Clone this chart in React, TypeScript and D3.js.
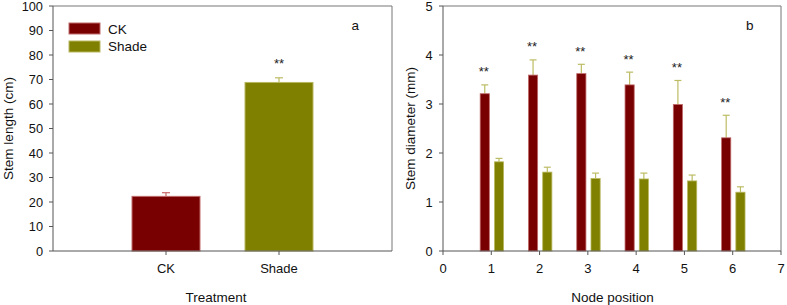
import React from "react";
import * as d3 from "d3";

// Panel a data
const treatments = ["CK", "Shade"];
const stemLength = [22.3, 68.8];
const stemLengthErr = [1.5, 1.9];
const stemLengthSig = ["", "**"];
const lengthTicks = [0, 10, 20, 30, 40, 50, 60, 70, 80, 90, 100];

// Panel b data
const nodes = [1, 2, 3, 4, 5, 6];
const diamCK = [3.21, 3.59, 3.62, 3.39, 2.99, 2.31];
const diamCKErr = [0.18, 0.31, 0.19, 0.26, 0.49, 0.46];
const diamShade = [1.82, 1.61, 1.48, 1.47, 1.43, 1.2];
const diamShadeErr = [0.07, 0.1, 0.11, 0.12, 0.12, 0.11];
const diamSig = ["**", "**", "**", "**", "**", "**"];
const diamTicksY = [0, 1, 2, 3, 4, 5];
const diamTicksX = [0, 1, 2, 3, 4, 5, 6, 7];

const RED = "#780000";
const RED_EDGE = "#c06a6a";
const OLIVE = "#7f7f00";
const OLIVE_EDGE = "#b8b860";
const ERR_B = "#bcbc64";
const FONT = "Arial, 'Liberation Sans', Helvetica, sans-serif";
const AXIS = "#555";

export default function App() {
  const top = 6;
  const bottom = 251;

  // Panel a scales
  const xa = d3.scalePoint<string>().domain(["", ...treatments, " "]).range([53, 392]);
  const ya = d3.scaleLinear().domain([0, 100]).range([bottom, top]);
  const barWA = 68;

  // Panel b scales
  const xb = d3.scaleLinear().domain([0, 7]).range([443, 781]);
  const yb = d3.scaleLinear().domain([0, 5]).range([bottom, top]);
  const bw = xb(0.19) - xb(0);

  const colorsA = [RED, OLIVE];
  const edgesA = [RED_EDGE, OLIVE_EDGE];
  const errA = ["#c86a6a", ERR_B];

  return (
    <svg
      width={787}
      height={305}
      style={{ position: "absolute", left: 0, top: 0, background: "#fff" }}
      fontFamily={FONT}
    >
      {/* ---------- Panel a ---------- */}
      <g>
        {/* bars */}
        {treatments.map((t, i) => {
          const cx = xa(t)!;
          return (
            <g key={t}>
              <line x1={cx} x2={cx} y1={ya(stemLength[i])} y2={ya(stemLength[i] + stemLengthErr[i])} stroke={errA[i]} strokeWidth={1.2} />
              <line x1={cx - 4} x2={cx + 4} y1={ya(stemLength[i] + stemLengthErr[i])} y2={ya(stemLength[i] + stemLengthErr[i])} stroke={errA[i]} strokeWidth={1.2} />
              <rect x={cx - barWA / 2} y={ya(stemLength[i])} width={barWA} height={ya(0) - ya(stemLength[i])} fill={colorsA[i]} stroke={edgesA[i]} strokeWidth={1} />
              {stemLengthSig[i] && (
                <text x={cx} y={ya(stemLength[i] + stemLengthErr[i]) - 9.5} textAnchor="middle" fontSize={13} fill="#222">
                  {stemLengthSig[i]}
                </text>
              )}
            </g>
          );
        })}
        {/* frame */}
        <path d={`M53,${top}H392V${bottom}`} fill="none" stroke="#777" strokeWidth={1} />
        <line x1={53} x2={53} y1={top} y2={bottom} stroke={AXIS} strokeWidth={1} />
        <line x1={53} x2={392} y1={bottom} y2={bottom} stroke={AXIS} strokeWidth={1} />
        {/* y ticks */}
        {lengthTicks.map((v) => (
          <g key={v}>
            <line x1={49} x2={53} y1={ya(v)} y2={ya(v)} stroke={AXIS} />
            <text x={43} y={ya(v) + 4.5} textAnchor="end" fontSize={12.8} fill="#111">
              {v}
            </text>
          </g>
        ))}
        {/* x ticks */}
        {treatments.map((t) => (
          <g key={t}>
            <line x1={xa(t)!} x2={xa(t)!} y1={bottom} y2={bottom + 4} stroke={AXIS} />
            <text x={xa(t)!} y={273} textAnchor="middle" fontSize={13} fill="#111">
              {t}
            </text>
          </g>
        ))}
        <text x={216} y={301.5} textAnchor="middle" fontSize={13.5} fill="#111">
          Treatment
        </text>
        <text transform={`translate(12.5,128.5) rotate(-90)`} textAnchor="middle" fontSize={13.5} fill="#111">
          Stem length (cm)
        </text>
        {/* legend */}
        {treatments.map((t, i) => (
          <g key={t}>
            <rect x={69} y={23 + i * 18} width={31} height={11} fill={colorsA[i]} stroke={edgesA[i]} />
            <text x={108} y={33.5 + i * 17.5} fontSize={13.5} fill="#111">
              {t}
            </text>
          </g>
        ))}
        <text x={351.5} y={29.5} fontSize={13.5} fill="#111">
          a
        </text>
      </g>

      {/* ---------- Panel b ---------- */}
      <g>
        {nodes.map((n, i) => {
          const ckX = xb(n - 0.23);
          const shX = xb(n + 0.065);
          const ckTop = yb(diamCK[i] + diamCKErr[i]);
          const shTop = yb(diamShade[i] + diamShadeErr[i]);
          return (
            <g key={n}>
              <line x1={ckX + bw / 2} x2={ckX + bw / 2} y1={yb(diamCK[i])} y2={ckTop} stroke={ERR_B} strokeWidth={1.2} />
              <line x1={ckX + bw / 2 - 3.5} x2={ckX + bw / 2 + 3.5} y1={ckTop} y2={ckTop} stroke={ERR_B} strokeWidth={1.2} />
              <line x1={shX + bw / 2} x2={shX + bw / 2} y1={yb(diamShade[i])} y2={shTop} stroke={ERR_B} strokeWidth={1.2} />
              <line x1={shX + bw / 2 - 3.5} x2={shX + bw / 2 + 3.5} y1={shTop} y2={shTop} stroke={ERR_B} strokeWidth={1.2} />
              <rect x={ckX} y={yb(diamCK[i])} width={bw} height={yb(0) - yb(diamCK[i])} fill={RED} stroke={RED_EDGE} strokeWidth={0.8} />
              <rect x={shX} y={yb(diamShade[i])} width={bw} height={yb(0) - yb(diamShade[i])} fill={OLIVE} stroke={OLIVE_EDGE} strokeWidth={0.8} />
              <text x={ckX + bw / 2 - 1} y={ckTop - 8.5} textAnchor="middle" fontSize={13} fill="#222">
                {diamSig[i]}
              </text>
            </g>
          );
        })}
        <path d={`M443,${top}H781V${bottom}`} fill="none" stroke="#777" strokeWidth={1} />
        <line x1={443} x2={443} y1={top} y2={bottom} stroke={AXIS} strokeWidth={1} />
        <line x1={443} x2={781} y1={bottom} y2={bottom} stroke={AXIS} strokeWidth={1} />
        {diamTicksY.map((v) => (
          <g key={v}>
            <line x1={439} x2={443} y1={yb(v)} y2={yb(v)} stroke={AXIS} />
            <text x={432.5} y={yb(v) + 4.5} textAnchor="end" fontSize={12.8} fill="#111">
              {v}
            </text>
          </g>
        ))}
        {diamTicksX.map((v) => (
          <g key={v}>
            <line x1={xb(v)} x2={xb(v)} y1={bottom} y2={bottom + 4} stroke={AXIS} />
            <text x={xb(v)} y={273} textAnchor="middle" fontSize={13} fill="#111">
              {v}
            </text>
          </g>
        ))}
        <text x={612.5} y={301.5} textAnchor="middle" fontSize={13.5} fill="#111">
          Node position
        </text>
        <text transform={`translate(415,128.5) rotate(-90)`} textAnchor="middle" fontSize={13.5} fill="#111">
          Stem diameter (mm)
        </text>
        <text x={746} y={29.5} fontSize={13.5} fill="#111">
          b
        </text>
      </g>
    </svg>
  );
}
